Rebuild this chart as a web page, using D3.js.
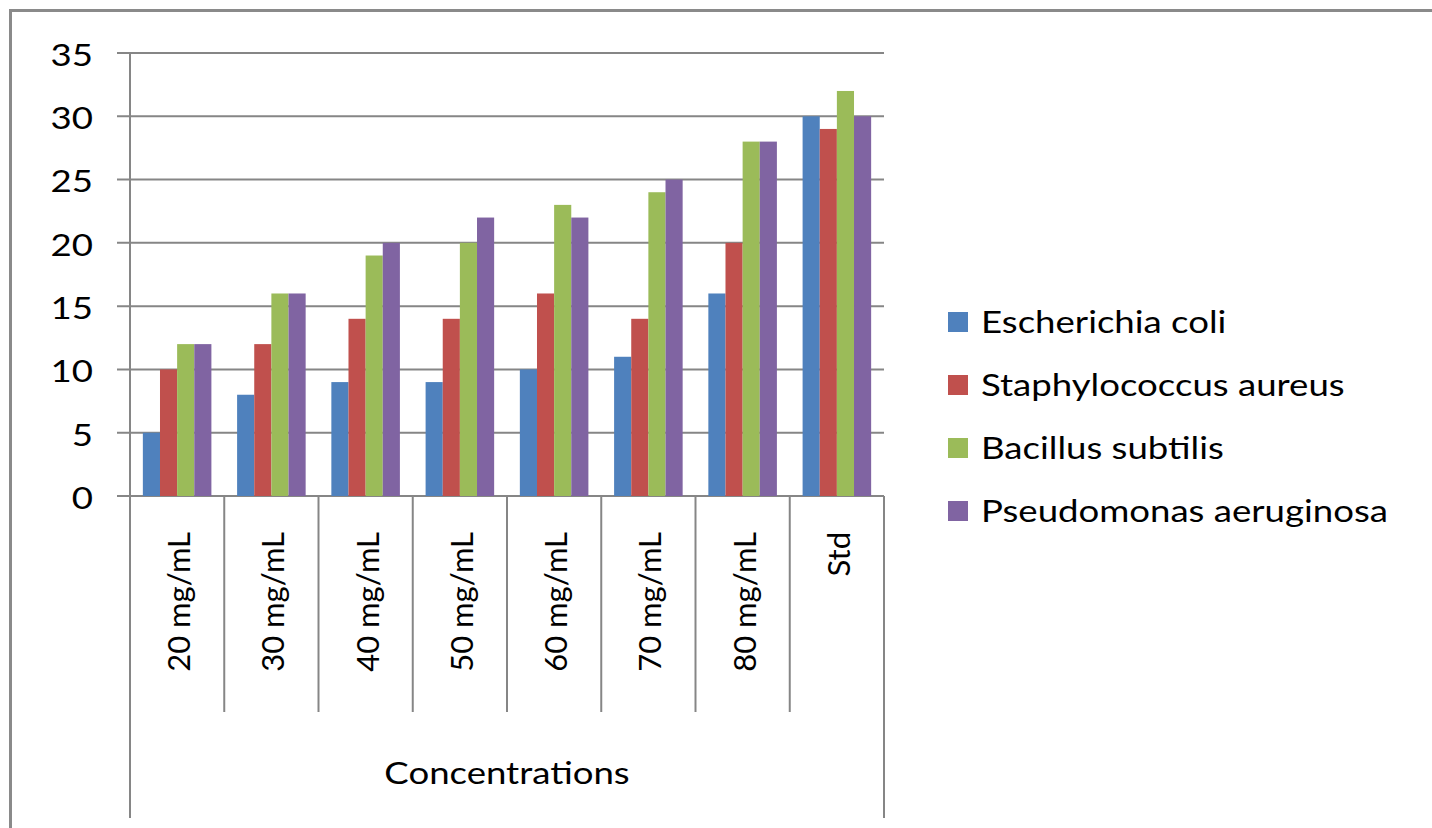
<!DOCTYPE html>
<html>
<head>
<meta charset="utf-8">
<script src="https://cdn.jsdelivr.net/npm/d3@7"></script>
<style>
  html, body { margin: 0; padding: 0; background: #fff; }
  svg { display: block; }
  text { font-family: Lato, "Open Sans", sans-serif; fill: #000; }
</style>
</head>
<body>
<svg id="chart" width="1432" height="828"></svg>
<script>
// Zone of inhibition by extract concentration
const categories = ["20 mg/mL", "30 mg/mL", "40 mg/mL", "50 mg/mL", "60 mg/mL", "70 mg/mL", "80 mg/mL", "Std"];
const seriesNames = ["Escherichia coli", "Staphylococcus aureus", "Bacillus subtilis", "Pseudomonas aeruginosa"];
const ecoli       = [5, 8, 9, 9, 10, 11, 16, 30];
const saureus     = [10, 12, 14, 14, 16, 14, 20, 29];
const bsubtilis   = [12, 16, 19, 20, 23, 24, 28, 32];
const paeruginosa = [12, 16, 20, 22, 22, 25, 28, 30];
const yTicks = [0, 5, 10, 15, 20, 25, 30, 35];
const axisTitle = "Concentrations";
const colors = ["#4F81BD", "#C0504D", "#9BBB59", "#8064A2"];

const seriesValues = [ecoli, saureus, bsubtilis, paeruginosa];

const svg = d3.select("#chart");
const W = 1432, H = 828;
const plotLeft = 130, plotRight = 884, plotTop = 53, plotBottom = 496;
const gridColor = "#868686";
const fontSize = 31;
const stretch = 1.18;   // horizontal text is set slightly wide

// outer chart frame
svg.append("rect")
  .attr("x", 10.5).attr("y", 10.5)
  .attr("width", W).attr("height", H)
  .attr("fill", "none").attr("stroke", "#8a8a8a").attr("stroke-width", 3);

const x0 = d3.scaleBand().domain(categories).range([plotLeft, plotRight]).paddingInner(0).paddingOuter(0);
const x1 = d3.scaleBand().domain(d3.range(seriesNames.length))
  .range([0, x0.bandwidth()]).paddingInner(0).paddingOuter(0.75);
const y = d3.scaleLinear().domain([0, 35]).range([plotBottom, plotTop]);

// horizontal gridlines with left tick marks
svg.append("g").selectAll("line").data(yTicks).join("line")
  .attr("x1", 117).attr("x2", plotRight)
  .attr("y1", d => y(d)).attr("y2", d => y(d))
  .attr("stroke", gridColor).attr("stroke-width", 2);

// y-axis labels
svg.append("g").selectAll("text").data(yTicks).join("text")
  .attr("transform", d => `translate(93,${y(d) + 1}) scale(${stretch},1)`)
  .attr("text-anchor", "end").attr("dominant-baseline", "central")
  .attr("font-size", fontSize)
  .text(d => d);

// bars
const groups = svg.append("g").selectAll("g").data(categories).join("g")
  .attr("transform", c => `translate(${x0(c)},0)`);
groups.selectAll("rect")
  .data((c, ci) => seriesValues.map((vals, si) => ({ si, v: vals[ci] })))
  .join("rect")
  .attr("x", d => x1(d.si))
  .attr("width", x1.bandwidth())
  .attr("y", d => y(d.v))
  .attr("height", d => y(0) - y(d.v))
  .attr("fill", d => colors[d.si]);

// vertical value axis and right closing line
svg.append("line")
  .attr("x1", plotLeft).attr("x2", plotLeft).attr("y1", plotTop).attr("y2", 818)
  .attr("stroke", gridColor).attr("stroke-width", 2);
svg.append("line")
  .attr("x1", plotRight).attr("x2", plotRight).attr("y1", plotBottom).attr("y2", 818)
  .attr("stroke", gridColor).attr("stroke-width", 2);

// category separators
const inner = categories.slice(1).map(c => x0(c));
svg.append("g").selectAll("line").data(inner).join("line")
  .attr("x1", d => d).attr("x2", d => d)
  .attr("y1", plotBottom).attr("y2", 712)
  .attr("stroke", gridColor).attr("stroke-width", 2);

// category labels, rotated
svg.append("g").selectAll("text").data(categories).join("text")
  .attr("transform", c => `translate(${x0(c) + x0.bandwidth() / 2 + 13},532) rotate(-90)`)
  .attr("text-anchor", "end")
  .attr("font-size", fontSize)
  .text(c => c);

// axis title
svg.append("text")
  .attr("transform", `translate(${(plotLeft + plotRight) / 2},784) scale(${stretch},1)`)
  .attr("text-anchor", "middle")
  .attr("font-size", fontSize)
  .text(axisTitle);

// legend
const legend = svg.append("g").selectAll("g").data(seriesNames).join("g")
  .attr("transform", (d, i) => `translate(948,${322 + i * 63})`);
legend.append("rect")
  .attr("x", 0).attr("y", -10).attr("width", 20).attr("height", 20)
  .attr("fill", (d, i) => colors[i]);
legend.append("text")
  .attr("transform", `translate(33,11) scale(${stretch},1)`)
  .attr("font-size", fontSize)
  .text(d => d);
</script>
</body>
</html>
